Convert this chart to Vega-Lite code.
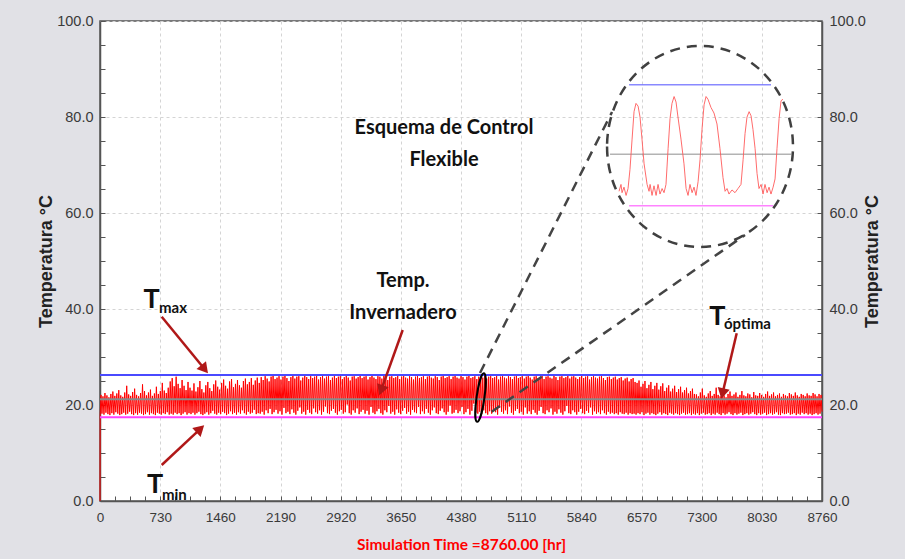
{
"$schema":"https://vega.github.io/schema/vega-lite/v6.json",
"width":722,"height":480,"autosize":"none",
"padding":{"left":100,"top":21,"right":83,"bottom":58},
"background":"#e1e1e6",
"config":{"view":{"stroke":"#555555","strokeWidth":1.5,"fill":"#ffffff"},
"axis":{"domainColor":"#555555","domainWidth":1.5,"tickColor":"#555555","tickWidth":1,"tickSize":-5,"labelColor":"#3a3a3a","gridColor":"#d4d4d4","gridDash":[3,3],"labelOverlap":false,"labelFlush":false,"labelBound":false}},
"datasets":{
"main":[{"h":0,"t":0},{"h":2,"t":17.9},{"h":12,"t":22.1},{"h":24,"t":18.2},{"h":36,"t":21.8},{"h":48,"t":18.0},{"h":60,"t":22.5},{"h":72,"t":18.4},{"h":84,"t":22.0},{"h":96,"t":18.1},{"h":108,"t":21.6},{"h":120,"t":17.9},{"h":132,"t":22.3},{"h":144,"t":18.3},{"h":156,"t":22.8},{"h":168,"t":18.0},{"h":180,"t":21.9},{"h":192,"t":18.5},{"h":204,"t":22.4},{"h":216,"t":18.2},{"h":228,"t":23.1},{"h":240,"t":17.9},{"h":252,"t":22.0},{"h":264,"t":18.1},{"h":276,"t":21.7},{"h":288,"t":18.4},{"h":300,"t":22.6},{"h":312,"t":18.0},{"h":324,"t":24.0},{"h":336,"t":18.2},{"h":348,"t":22.2},{"h":360,"t":18.6},{"h":372,"t":21.9},{"h":384,"t":18.1},{"h":396,"t":22.7},{"h":408,"t":17.9},{"h":420,"t":23.4},{"h":432,"t":18.3},{"h":444,"t":22.1},{"h":456,"t":18.0},{"h":468,"t":21.8},{"h":480,"t":18.4},{"h":492,"t":22.5},{"h":504,"t":18.2},{"h":516,"t":24.3},{"h":528,"t":17.9},{"h":540,"t":22.9},{"h":552,"t":18.1},{"h":564,"t":22.0},{"h":576,"t":18.5},{"h":588,"t":22.6},{"h":600,"t":18.0},{"h":612,"t":23.2},{"h":624,"t":18.3},{"h":636,"t":21.9},{"h":648,"t":18.1},{"h":660,"t":22.4},{"h":672,"t":17.9},{"h":684,"t":23.8},{"h":696,"t":18.4},{"h":708,"t":22.3},{"h":720,"t":18.2},{"h":732,"t":22.9},{"h":744,"t":18.0},{"h":756,"t":24.6},{"h":768,"t":18.3},{"h":780,"t":23.0},{"h":792,"t":18.1},{"h":804,"t":22.5},{"h":816,"t":18.5},{"h":828,"t":23.6},{"h":840,"t":18.0},{"h":852,"t":24.9},
{"h":864,"t":18.2},{"h":876,"t":25.6},{"h":888,"t":18.0},{"h":900,"t":23.9},{"h":912,"t":18.4},{"h":924,"t":25.9},{"h":936,"t":18.1},{"h":948,"t":24.4},{"h":960,"t":18.3},{"h":972,"t":23.5},{"h":984,"t":17.9},{"h":996,"t":25.2},{"h":1008,"t":18.2},{"h":1020,"t":24.0},{"h":1032,"t":18.5},{"h":1044,"t":23.1},{"h":1056,"t":18.0},{"h":1068,"t":24.8},{"h":1080,"t":18.3},{"h":1092,"t":23.6},
{"h":1104,"t":18.1},{"h":1116,"t":23.0},{"h":1128,"t":18.4},{"h":1140,"t":24.5},{"h":1152,"t":18.0},{"h":1164,"t":22.8},{"h":1176,"t":18.3},{"h":1188,"t":23.7},{"h":1200,"t":18.6},{"h":1212,"t":25.0},{"h":1224,"t":18.1},{"h":1236,"t":23.3},{"h":1248,"t":17.9},{"h":1260,"t":22.6},{"h":1272,"t":18.2},{"h":1284,"t":24.1},{"h":1296,"t":18.5},{"h":1308,"t":24.8},{"h":1320,"t":18.0},{"h":1332,"t":23.5},{"h":1344,"t":18.3},{"h":1356,"t":22.9},{"h":1368,"t":18.8},{"h":1380,"t":24.3},{"h":1392,"t":18.2},{"h":1404,"t":25.1},{"h":1416,"t":18.0},{"h":1428,"t":23.8},{"h":1440,"t":18.4},{"h":1452,"t":23.2},{"h":1464,"t":18.1},{"h":1476,"t":24.6},{"h":1488,"t":18.6},{"h":1500,"t":25.3},{"h":1512,"t":18.3},{"h":1524,"t":24.0},{"h":1536,"t":17.9},{"h":1548,"t":23.4},{"h":1560,"t":18.2},{"h":1572,"t":24.9},{"h":1584,"t":18.7},{"h":1596,"t":25.4},{"h":1608,"t":18.1},{"h":1620,"t":23.7},{"h":1632,"t":18.4},{"h":1644,"t":24.4},{"h":1656,"t":18.0},{"h":1668,"t":25.2},{"h":1680,"t":18.5},{"h":1692,"t":24.1},{"h":1704,"t":18.2},{"h":1716,"t":23.6},{"h":1728,"t":18.9},{"h":1740,"t":25.0},{"h":1752,"t":18.3},{"h":1764,"t":25.5},{"h":1776,"t":18.0},{"h":1788,"t":24.3},{"h":1800,"t":18.6},{"h":1812,"t":24.8},{"h":1824,"t":18.2},{"h":1836,"t":25.6},{"h":1848,"t":18.4},{"h":1860,"t":24.2},{"h":1872,"t":19.0},{"h":1884,"t":25.1},{"h":1896,"t":18.1},{"h":1908,"t":25.7},{"h":1920,"t":18.3},{"h":1932,"t":24.6},
{"h":1944,"t":18.2},{"h":1956,"t":25.8},{"h":1968,"t":18.6},{"h":1980,"t":25.2},{"h":1992,"t":18.0},{"h":2004,"t":26.0},{"h":2016,"t":18.9},{"h":2028,"t":25.5},{"h":2040,"t":18.3},{"h":2052,"t":24.9},{"h":2064,"t":19.2},{"h":2076,"t":25.9},{"h":2088,"t":18.1},{"h":2100,"t":26.1},{"h":2112,"t":18.5},{"h":2124,"t":25.4},{"h":2136,"t":19.0},{"h":2148,"t":25.7},{"h":2160,"t":18.2},{"h":2172,"t":26.0},{"h":2184,"t":18.7},{"h":2196,"t":25.3},{"h":2208,"t":18.0},{"h":2220,"t":25.9},{"h":2232,"t":19.4},{"h":2244,"t":26.2},{"h":2256,"t":18.3},{"h":2268,"t":25.6},{"h":2280,"t":18.6},{"h":2292,"t":25.0},{"h":2304,"t":18.1},{"h":2316,"t":25.8},{"h":2328,"t":19.1},{"h":2340,"t":26.1},{"h":2352,"t":18.4},{"h":2364,"t":25.5},{"h":2376,"t":18.0},{"h":2388,"t":25.9},{"h":2400,"t":18.8},{"h":2412,"t":26.0},{"h":2424,"t":19.5},{"h":2436,"t":25.1},{"h":2448,"t":18.2},{"h":2460,"t":25.7},{"h":2472,"t":18.6},{"h":2484,"t":26.1},{"h":2496,"t":18.0},{"h":2508,"t":25.8},{"h":2520,"t":19.0},{"h":2532,"t":25.4},{"h":2544,"t":18.4},{"h":2556,"t":26.0},{"h":2568,"t":18.1},{"h":2580,"t":25.6},{"h":2592,"t":19.3},{"h":2604,"t":25.9},{"h":2616,"t":18.5},{"h":2628,"t":26.2},{"h":2640,"t":18.2},{"h":2652,"t":25.3},{"h":2664,"t":18.9},{"h":2676,"t":25.8},{"h":2688,"t":18.0},{"h":2700,"t":26.1},{"h":2712,"t":18.6},{"h":2724,"t":25.5},{"h":2736,"t":19.7},{"h":2748,"t":25.9},{"h":2760,"t":18.3},{"h":2772,"t":26.0},{"h":2784,"t":18.1},{"h":2796,"t":25.2},{"h":2808,"t":18.8},{"h":2820,"t":25.7},{"h":2832,"t":19.2},{"h":2844,"t":26.1},{"h":2856,"t":18.4},{"h":2868,"t":25.6},{"h":2880,"t":18.0},{"h":2892,"t":25.9},{"h":2904,"t":18.7},{"h":2916,"t":26.0},{"h":2928,"t":19.0},{"h":2940,"t":25.4},{"h":2952,"t":18.2},{"h":2964,"t":25.8},{"h":2976,"t":18.5},{"h":2988,"t":26.2},{"h":3000,"t":20.1},{"h":3012,"t":25.7},{"h":3024,"t":18.3},{"h":3036,"t":25.1},{"h":3048,"t":18.0},{"h":3060,"t":25.9},{"h":3072,"t":18.9},{"h":3084,"t":26.0},{"h":3096,"t":18.4},{"h":3108,"t":25.5},{"h":3120,"t":19.3},{"h":3132,"t":25.8},{"h":3144,"t":18.1},{"h":3156,"t":26.1},{"h":3168,"t":18.6},{"h":3180,"t":25.6},{"h":3192,"t":19.0},{"h":3204,"t":25.9},{"h":3216,"t":18.2},{"h":3228,"t":26.0},{"h":3240,"t":18.8},{"h":3252,"t":25.3},{"h":3264,"t":18.0},{"h":3276,"t":25.8},{"h":3288,"t":19.6},{"h":3300,"t":26.2},{"h":3312,"t":18.4},{"h":3324,"t":25.7},{"h":3336,"t":18.1},{"h":3348,"t":25.4},{"h":3360,"t":18.7},{"h":3372,"t":26.0},{"h":3384,"t":19.2},{"h":3396,"t":25.9},{"h":3408,"t":18.3},{"h":3420,"t":25.5},{"h":3432,"t":18.0},{"h":3444,"t":26.1},{"h":3456,"t":18.9},{"h":3468,"t":25.8},{"h":3480,"t":18.5},{"h":3492,"t":25.2},{"h":3504,"t":19.8},{"h":3516,"t":25.9},{"h":3528,"t":18.2},{"h":3540,"t":26.0},{"h":3552,"t":18.6},{"h":3564,"t":25.6},{"h":3576,"t":18.0},{"h":3588,"t":25.8},{"h":3600,"t":19.1},{"h":3612,"t":26.1},{"h":3624,"t":18.4},{"h":3636,"t":25.4},{"h":3648,"t":18.1},{"h":3660,"t":25.9},{"h":3672,"t":18.8},{"h":3684,"t":26.2},{"h":3696,"t":19.4},{"h":3708,"t":25.7},{"h":3720,"t":18.2},{"h":3732,"t":25.5},{"h":3744,"t":18.6},{"h":3756,"t":26.0},{"h":3768,"t":18.0},{"h":3780,"t":25.8},{"h":3792,"t":19.0},{"h":3804,"t":25.3},{"h":3816,"t":18.5},{"h":3828,"t":25.9},{"h":3840,"t":18.3},{"h":3852,"t":26.1},{"h":3864,"t":19.6},{"h":3876,"t":25.6},{"h":3888,"t":18.1},{"h":3900,"t":25.8},{"h":3912,"t":18.7},{"h":3924,"t":26.0},{"h":3936,"t":18.2},{"h":3948,"t":25.4},{"h":3960,"t":19.2},{"h":3972,"t":25.9},{"h":3984,"t":18.4},{"h":3996,"t":26.2},{"h":4008,"t":18.0},{"h":4020,"t":25.7},{"h":4032,"t":18.9},{"h":4044,"t":25.5},{"h":4056,"t":19.5},{"h":4068,"t":26.0},{"h":4080,"t":18.3},{"h":4092,"t":25.8},{"h":4104,"t":18.1},{"h":4116,"t":25.2},{"h":4128,"t":18.8},{"h":4140,"t":25.9},{"h":4152,"t":19.3},{"h":4164,"t":26.1},{"h":4176,"t":18.5},{"h":4188,"t":25.6},{"h":4200,"t":18.0},{"h":4212,"t":25.8},{"h":4224,"t":18.6},{"h":4236,"t":26.0},{"h":4248,"t":19.9},{"h":4260,"t":25.4},{"h":4272,"t":18.2},{"h":4284,"t":25.9},{"h":4296,"t":18.4},{"h":4308,"t":26.2},{"h":4320,"t":19.0},{"h":4332,"t":25.7},{"h":4344,"t":18.3},{"h":4356,"t":25.5},{"h":4368,"t":18.7},{"h":4380,"t":26.0},{"h":4392,"t":19.6},{"h":4404,"t":25.8},{"h":4416,"t":18.1},{"h":4428,"t":25.3},{"h":4440,"t":18.5},{"h":4452,"t":25.9},{"h":4464,"t":19.2},{"h":4476,"t":26.1},{"h":4488,"t":18.0},{"h":4500,"t":25.6},{"h":4512,"t":18.8},{"h":4524,"t":25.8},{"h":4536,"t":20.3},{"h":4548,"t":26.0},{"h":4560,"t":18.4},{"h":4572,"t":25.4},{"h":4584,"t":18.2},{"h":4596,"t":25.9},{"h":4608,"t":18.6},{"h":4620,"t":26.1},{"h":4632,"t":18.1},{"h":4644,"t":25.7},{"h":4656,"t":18.9},{"h":4668,"t":26.2},{"h":4680,"t":18.3},{"h":4692,"t":25.5},{"h":4704,"t":18.0},{"h":4716,"t":25.9},{"h":4728,"t":18.7},{"h":4740,"t":26.0},{"h":4752,"t":18.2},{"h":4764,"t":25.6},{"h":4776,"t":19.1},{"h":4788,"t":25.8},{"h":4800,"t":18.5},{"h":4812,"t":26.1},{"h":4824,"t":18.0},{"h":4836,"t":25.3},{"h":4848,"t":19.4},{"h":4860,"t":25.9},{"h":4872,"t":18.6},{"h":4884,"t":26.2},{"h":4896,"t":18.2},{"h":4908,"t":25.7},{"h":4920,"t":18.9},{"h":4932,"t":25.5},{"h":4944,"t":18.1},{"h":4956,"t":26.0},{"h":4968,"t":19.7},{"h":4980,"t":25.8},{"h":4992,"t":18.4},{"h":5004,"t":25.4},{"h":5016,"t":18.0},{"h":5028,"t":25.9},{"h":5040,"t":18.8},{"h":5052,"t":26.1},{"h":5064,"t":19.2},{"h":5076,"t":25.6},{"h":5088,"t":18.3},{"h":5100,"t":25.8},{"h":5112,"t":18.6},{"h":5124,"t":26.0},{"h":5136,"t":18.0},{"h":5148,"t":25.5},{"h":5160,"t":19.5},{"h":5172,"t":25.9},{"h":5184,"t":18.2},{"h":5196,"t":26.2},{"h":5208,"t":18.7},{"h":5220,"t":25.7},{"h":5232,"t":18.1},{"h":5244,"t":25.3},{"h":5256,"t":19.0},{"h":5268,"t":25.9},{"h":5280,"t":18.4},{"h":5292,"t":26.0},{"h":5304,"t":18.0},{"h":5316,"t":25.6},{"h":5328,"t":18.8},{"h":5340,"t":25.8},{"h":5352,"t":19.6},{"h":5364,"t":26.1},{"h":5376,"t":18.3},{"h":5388,"t":25.4},{"h":5400,"t":18.1},{"h":5412,"t":25.9},{"h":5424,"t":18.9},{"h":5436,"t":26.0},{"h":5448,"t":18.5},{"h":5460,"t":25.7},{"h":5472,"t":19.3},{"h":5484,"t":25.5},{"h":5496,"t":18.0},{"h":5508,"t":26.1},{"h":5520,"t":18.6},{"h":5532,"t":25.8},{"h":5544,"t":18.2},{"h":5556,"t":25.2},{"h":5568,"t":19.1},{"h":5580,"t":25.9},{"h":5592,"t":18.4},{"h":5604,"t":26.0},{"h":5616,"t":18.0},{"h":5628,"t":25.6},{"h":5640,"t":18.7},{"h":5652,"t":25.8},{"h":5664,"t":19.8},{"h":5676,"t":26.2},{"h":5688,"t":18.3},{"h":5700,"t":25.5},{"h":5712,"t":18.1},{"h":5724,"t":25.9},{"h":5736,"t":18.9},{"h":5748,"t":26.0},{"h":5760,"t":18.5},{"h":5772,"t":25.7},{"h":5784,"t":18.0},{"h":5796,"t":25.4},{"h":5808,"t":18.6},{"h":5820,"t":25.8},{"h":5832,"t":19.2},{"h":5844,"t":26.1},{"h":5856,"t":18.3},{"h":5868,"t":25.6},{"h":5880,"t":18.1},{"h":5892,"t":25.9},{"h":5904,"t":18.8},{"h":5916,"t":26.0},{"h":5928,"t":18.4},{"h":5940,"t":25.3},{"h":5952,"t":19.5},{"h":5964,"t":25.8},{"h":5976,"t":18.0},{"h":5988,"t":26.1},{"h":6000,"t":18.7},{"h":6012,"t":25.7},{"h":6024,"t":18.2},{"h":6036,"t":25.5},{"h":6048,"t":18.5},{"h":6060,"t":25.9},{"h":6072,"t":18.1},{"h":6084,"t":26.0},{"h":6096,"t":18.9},{"h":6108,"t":25.6},{"h":6120,"t":18.3},{"h":6132,"t":25.2},{"h":6144,"t":18.0},{"h":6156,"t":25.8},{"h":6168,"t":18.6},{"h":6180,"t":25.9},{"h":6192,"t":18.2},{"h":6204,"t":25.4},{"h":6216,"t":18.4},{"h":6228,"t":25.7},{"h":6240,"t":18.1},{"h":6252,"t":25.9},{"h":6264,"t":18.3},{"h":6276,"t":25.3},{"h":6288,"t":18.0},{"h":6300,"t":25.6},{"h":6312,"t":18.5},{"h":6324,"t":25.8},{"h":6336,"t":18.2},{"h":6348,"t":25.1},{"h":6360,"t":18.1},{"h":6372,"t":25.5},{"h":6384,"t":18.4},{"h":6396,"t":25.7},{"h":6408,"t":18.0},{"h":6420,"t":24.9},{"h":6432,"t":18.3},{"h":6444,"t":25.4},{"h":6456,"t":18.1},{"h":6468,"t":25.6},{"h":6480,"t":18.2},{"h":6492,"t":24.8},
{"h":6504,"t":18.0},{"h":6516,"t":24.6},{"h":6528,"t":18.3},{"h":6540,"t":25.1},{"h":6552,"t":18.1},{"h":6564,"t":23.8},{"h":6576,"t":18.5},{"h":6588,"t":24.4},{"h":6600,"t":17.9},{"h":6612,"t":25.0},{"h":6624,"t":18.2},{"h":6636,"t":23.5},{"h":6648,"t":18.4},{"h":6660,"t":24.2},{"h":6672,"t":18.0},{"h":6684,"t":24.8},{"h":6696,"t":18.3},{"h":6708,"t":23.3},{"h":6720,"t":18.1},{"h":6732,"t":24.0},{"h":6744,"t":17.9},{"h":6756,"t":24.6},{"h":6768,"t":18.2},{"h":6780,"t":23.2},{"h":6792,"t":18.5},{"h":6804,"t":23.9},{"h":6816,"t":18.0},{"h":6828,"t":24.5},{"h":6840,"t":18.3},{"h":6852,"t":22.9},{"h":6864,"t":18.1},{"h":6876,"t":23.6},{"h":6888,"t":17.9},{"h":6900,"t":24.1},{"h":6912,"t":18.4},{"h":6924,"t":22.8},{"h":6936,"t":18.2},{"h":6948,"t":23.4},{"h":6960,"t":18.0},{"h":6972,"t":24.0},{"h":6984,"t":18.3},{"h":6996,"t":22.7},{"h":7008,"t":18.1},{"h":7020,"t":23.3},{"h":7032,"t":17.9},{"h":7044,"t":23.8},{"h":7056,"t":18.2},{"h":7068,"t":22.6},{"h":7080,"t":18.4},{"h":7092,"t":23.1},{"h":7104,"t":18.0},{"h":7116,"t":23.6},{"h":7128,"t":18.1},{"h":7140,"t":22.4},{"h":7152,"t":18.3},{"h":7164,"t":22.9},{"h":7176,"t":17.9},{"h":7188,"t":23.4},{"h":7200,"t":18.2},{"h":7212,"t":22.3},
{"h":7224,"t":18.0},{"h":7236,"t":22.2},{"h":7248,"t":18.3},{"h":7260,"t":21.8},{"h":7272,"t":17.9},{"h":7284,"t":22.6},{"h":7296,"t":18.2},{"h":7308,"t":23.4},{"h":7320,"t":18.4},{"h":7332,"t":22.0},{"h":7344,"t":18.0},{"h":7356,"t":21.7},{"h":7368,"t":18.1},{"h":7380,"t":22.4},{"h":7392,"t":18.3},{"h":7404,"t":22.9},{"h":7416,"t":17.9},{"h":7428,"t":21.9},{"h":7440,"t":18.2},{"h":7452,"t":22.3},{"h":7464,"t":18.0},{"h":7476,"t":23.6},{"h":7488,"t":18.4},{"h":7500,"t":22.1},{"h":7512,"t":18.1},{"h":7524,"t":21.8},{"h":7536,"t":17.9},{"h":7548,"t":22.5},{"h":7560,"t":18.3},{"h":7572,"t":22.0},{"h":7584,"t":18.0},{"h":7596,"t":21.6},{"h":7608,"t":18.2},{"h":7620,"t":22.3},{"h":7632,"t":18.5},{"h":7644,"t":22.8},{"h":7656,"t":18.1},{"h":7668,"t":21.9},{"h":7680,"t":17.9},{"h":7692,"t":22.2},{"h":7704,"t":18.3},{"h":7716,"t":22.6},{"h":7728,"t":18.0},{"h":7740,"t":21.7},{"h":7752,"t":18.2},{"h":7764,"t":22.1},{"h":7776,"t":18.4},{"h":7788,"t":22.9},{"h":7800,"t":17.9},{"h":7812,"t":22.0},{"h":7824,"t":18.1},{"h":7836,"t":21.8},{"h":7848,"t":18.3},{"h":7860,"t":22.4},{"h":7872,"t":18.0},{"h":7884,"t":22.2},{"h":7896,"t":18.2},{"h":7908,"t":21.6},{"h":7920,"t":18.5},{"h":7932,"t":22.7},{"h":7944,"t":18.1},{"h":7956,"t":22.0},{"h":7968,"t":17.9},{"h":7980,"t":21.9},{"h":7992,"t":18.3},{"h":8004,"t":22.5},{"h":8016,"t":18.0},{"h":8028,"t":22.1},{"h":8040,"t":18.2},{"h":8052,"t":21.7},{"h":8064,"t":18.4},{"h":8076,"t":22.3},{"h":8088,"t":17.9},{"h":8100,"t":22.8},{"h":8112,"t":18.1},{"h":8124,"t":21.9},{"h":8136,"t":18.3},{"h":8148,"t":22.2},{"h":8160,"t":18.0},{"h":8172,"t":22.6},{"h":8184,"t":18.2},{"h":8196,"t":21.8},{"h":8208,"t":18.5},{"h":8220,"t":22.1},{"h":8232,"t":18.0},{"h":8244,"t":22.4},{"h":8256,"t":17.9},{"h":8268,"t":21.7},{"h":8280,"t":18.3},{"h":8292,"t":22.3},{"h":8304,"t":18.1},{"h":8316,"t":22.0},{"h":8328,"t":18.2},{"h":8340,"t":21.8},{"h":8352,"t":18.4},{"h":8364,"t":22.5},{"h":8376,"t":18.0},{"h":8388,"t":22.2},{"h":8400,"t":18.1},{"h":8412,"t":21.9},{"h":8424,"t":18.3},{"h":8436,"t":22.6},{"h":8448,"t":17.9},{"h":8460,"t":22.0},{"h":8472,"t":18.2},{"h":8484,"t":21.7},{"h":8496,"t":18.0},{"h":8508,"t":22.3},{"h":8520,"t":18.4},{"h":8532,"t":22.1},{"h":8544,"t":18.1},{"h":8556,"t":21.8},{"h":8568,"t":18.3},{"h":8580,"t":22.4},{"h":8592,"t":18.0},{"h":8604,"t":22.0},{"h":8616,"t":18.2},{"h":8628,"t":21.9},{"h":8640,"t":17.9},{"h":8652,"t":22.5},{"h":8664,"t":18.1},{"h":8676,"t":22.2},{"h":8688,"t":18.3},{"h":8700,"t":21.8},{"h":8712,"t":18.0},{"h":8724,"t":22.3},{"h":8736,"t":18.2},{"h":8748,"t":22.1},{"h":8760,"t":18.6}],
"limits":[{"name":"Tmax","t":26.25,"h":0,"h2":8760},{"name":"Tmin","t":17.44,"h":0,"h2":8760},{"name":"Topt","t":21.2,"h":0,"h2":8760}],
"insetLimits":[{"name":"Tmax","t":26.25,"h":4596.7,"h2":4691.3},{"name":"Tmin","t":17.44,"h":4596.7,"h2":4692.7},{"name":"Topt","t":21.2,"h":4584,"h2":4705.3}],
"inset":[{"h":4590,"t":18.5},{"h":4591.3,"t":19.0},{"h":4592,"t":18.4},{"h":4593.3,"t":18.8},{"h":4594.7,"t":18.2},{"h":4596,"t":18.7},{"h":4597.3,"t":20.1},{"h":4598.7,"t":22.3},{"h":4600,"t":24.3},{"h":4601.3,"t":24.9},{"h":4602.7,"t":24.7},{"h":4604,"t":23.9},{"h":4605.3,"t":22.3},{"h":4606.7,"t":20.5},{"h":4608.7,"t":19.0},{"h":4610,"t":18.5},{"h":4610.7,"t":19.0},{"h":4612,"t":18.2},{"h":4613.3,"t":18.9},{"h":4614.7,"t":18.2},{"h":4616,"t":19.0},{"h":4617.3,"t":18.3},{"h":4618.7,"t":18.7},{"h":4620,"t":18.4},{"h":4621.3,"t":19.0},{"h":4622.7,"t":21.6},{"h":4624,"t":23.8},{"h":4625.3,"t":24.9},{"h":4626.7,"t":25.4},{"h":4628,"t":25.0},{"h":4629.3,"t":23.9},{"h":4631.3,"t":22.3},{"h":4633.3,"t":20.5},{"h":4634.7,"t":18.7},{"h":4636,"t":18.2},{"h":4637.3,"t":19.0},{"h":4638.7,"t":18.4},{"h":4640,"t":18.8},{"h":4641.3,"t":18.2},{"h":4642.7,"t":19.2},{"h":4644,"t":20.8},{"h":4645.3,"t":23.0},{"h":4646.7,"t":24.8},{"h":4648,"t":25.4},{"h":4649.3,"t":25.2},{"h":4651.3,"t":24.6},{"h":4653.3,"t":24.2},{"h":4655.3,"t":23.4},{"h":4657.3,"t":21.6},{"h":4659.3,"t":19.5},{"h":4660.7,"t":18.5},{"h":4662,"t":18.7},{"h":4663.3,"t":18.3},{"h":4665.3,"t":18.6},{"h":4667.3,"t":18.4},{"h":4669.3,"t":18.7},{"h":4671.3,"t":19.0},{"h":4672.7,"t":20.8},{"h":4674,"t":22.7},{"h":4675.3,"t":23.9},{"h":4676.7,"t":24.3},{"h":4678,"t":24.0},{"h":4679.3,"t":23.0},{"h":4680.7,"t":21.6},{"h":4682,"t":19.8},{"h":4683.3,"t":18.7},{"h":4684.7,"t":19.0},{"h":4686,"t":18.3},{"h":4687.3,"t":19.0},{"h":4688.7,"t":18.4},{"h":4690,"t":18.8},{"h":4691.3,"t":18.3},{"h":4692.7,"t":18.8},{"h":4694,"t":19.4},{"h":4695.3,"t":21.6},{"h":4696.7,"t":23.8},{"h":4698,"t":25.1},{"h":4699.3,"t":25.2}],
"arrows":[{"h":748.6,"t":38.4,"h2":1255.8,"t2":27.75},{"h":748.6,"t":7.5,"h2":1201.2,"t2":14.77},{"h":3672.7,"t":35.63,"h2":3417.9,"t2":23.42},{"h":7725,"t":34.94,"h2":7557.6,"t2":22.75}],
"zoomLines":[{"h":4610.6,"t":26.67,"h2":6212.3,"t2":81.04},{"h":4752.5,"t":18.6,"h2":7825.8,"t2":55.42}]
},
"layer":[
{"data":{"name":"main"},"mark":{"type":"line","color":"#ff0000","strokeWidth":1,"opacity":1},
"encoding":{
"x":{"field":"h","type":"quantitative","scale":{"domain":[0,8760],"nice":false,"zero":false},
"axis":{"orient":"bottom","values":[0,182.5,365,547.5,730,912.5,1095,1277.5,1460,1642.5,1825,2007.5,2190,2372.5,2555,2737.5,2920,3102.5,3285,3467.5,3650,3832.5,4015,4197.5,4380,4562.5,4745,4927.5,5110,5292.5,5475,5657.5,5840,6022.5,6205,6387.5,6570,6752.5,6935,7117.5,7300,7482.5,7665,7847.5,8030,8212.5,8395,8577.5,8760],
"labelExpr":"datum.value % 730 === 0 ? format(datum.value, 'd') : ''",
"gridOpacity":{"condition":{"test":"datum.value % 730 === 0","value":1},"value":0},
"grid":true,"labelFont":"Liberation Sans","labelFontSize":13.5,"labelPadding":14,
"title":"Simulation Time =8760.00 [hr]","titleColor":"#ff0000","titleFont":"Lato","titleFontSize":15.5,"titleFontWeight":"bold","titlePadding":14}},
"y":{"field":"t","type":"quantitative","scale":{"domain":[0,100],"nice":false,"zero":false},
"axis":{"orient":"left","values":[0,5,10,15,20,25,30,35,40,45,50,55,60,65,70,75,80,85,90,95,100],
"labelExpr":"datum.value % 20 === 0 ? format(datum.value, '.1f') : ''",
"gridOpacity":{"condition":{"test":"datum.value % 20 === 0","value":1},"value":0},
"grid":true,"labelFont":"Liberation Sans","labelFontSize":14.5,"labelPadding":12,
"title":"Temperatura °C","titleFont":"Liberation Sans","titleFontSize":18,"titleFontWeight":"bold","titleColor":"#222222","titlePadding":1}}}},
{"data":{"name":"limits"},"mark":{"type":"rule","strokeWidth":2},
"encoding":{
"x":{"field":"h","type":"quantitative","scale":{"domain":[0,8760],"nice":false,"zero":false},"axis":null},
"x2":{"field":"h2"},
"y":{"field":"t","type":"quantitative","scale":{"domain":[0,100],"nice":false,"zero":false},
"axis":{"orient":"right","values":[0,5,10,15,20,25,30,35,40,45,50,55,60,65,70,75,80,85,90,95,100],
"labelExpr":"datum.value % 20 === 0 ? format(datum.value, '.1f') : ''",
"grid":false,"labelFont":"Liberation Sans","labelFontSize":14.5,"labelPadding":12,
"title":"Temperatura °C","titleFont":"Liberation Sans","titleFontSize":18,"titleFontWeight":"bold","titleColor":"#222222","titlePadding":16,"titleAngle":270}},
"color":{"field":"name","type":"nominal","scale":{"domain":["Tmax","Tmin","Topt"],"range":["#4a4aff","#ff40ff","#8a8a8a"]},"legend":null}}},
{"data":{"name":"zoomLines"},"mark":{"type":"rule","color":"#444444","strokeWidth":2.5,"strokeDash":[10,7]},
"encoding":{"x":{"field":"h","type":"quantitative","scale":{"domain":[0,8760],"nice":false,"zero":false},"axis":null},"x2":{"field":"h2"},
"y":{"field":"t","type":"quantitative","scale":{"domain":[0,100],"nice":false,"zero":false},"axis":null},"y2":{"field":"t2"}}},
{"data":{"values":[{"h":7280,"t":73.85}]},"mark":{"type":"point","shape":"M -0.925 0 A 0.925 1 0 1 0 0.925 0 A 0.925 1 0 1 0 -0.925 0 Z","size":40401,"filled":false,"stroke":"#404040","strokeWidth":2.5,"strokeDash":[10,7],"opacity":1},
"encoding":{"x":{"field":"h","type":"quantitative","scale":{"domain":[0,8760],"nice":false,"zero":false},"axis":null},
"y":{"field":"t","type":"quantitative","scale":{"domain":[0,100],"nice":false,"zero":false},"axis":null}}},
{"data":{"values":[{"h":4616.7,"t":21.56}]},"mark":{"type":"point","shape":"M -0.16 0 A 0.16 1 0 1 0 0.16 0 A 0.16 1 0 1 0 -0.16 0 Z","size":2401,"angle":8,"filled":false,"stroke":"#000000","strokeWidth":2,"opacity":1},
"encoding":{"x":{"field":"h","type":"quantitative","scale":{"domain":[0,8760],"nice":false,"zero":false},"axis":null},
"y":{"field":"t","type":"quantitative","scale":{"domain":[0,100],"nice":false,"zero":false},"axis":null}}},
{"data":{"name":"arrows"},"mark":{"type":"rule","color":"#b01818","strokeWidth":2.5},
"encoding":{"x":{"field":"h","type":"quantitative","scale":{"domain":[0,8760],"nice":false,"zero":false},"axis":null},"x2":{"field":"h2"},
"y":{"field":"t","type":"quantitative","scale":{"domain":[0,100],"nice":false,"zero":false},"axis":null},"y2":{"field":"t2"}}},
{"data":{"values":[{"h":1255.8,"t":27.75}]},"mark":{"type":"point","shape":"triangle","size":150,"angle":140.7,"filled":true,"color":"#b01818","opacity":1},
"encoding":{"x":{"field":"h","type":"quantitative","scale":{"domain":[0,8760],"nice":false,"zero":false},"axis":null},
"y":{"field":"t","type":"quantitative","scale":{"domain":[0,100],"nice":false,"zero":false},"axis":null}}},
{"data":{"values":[{"h":1201.2,"t":14.77}]},"mark":{"type":"point","shape":"triangle","size":150,"angle":46.9,"filled":true,"color":"#b01818","opacity":1},
"encoding":{"x":{"field":"h","type":"quantitative","scale":{"domain":[0,8760],"nice":false,"zero":false},"axis":null},
"y":{"field":"t","type":"quantitative","scale":{"domain":[0,100],"nice":false,"zero":false},"axis":null}}},
{"data":{"values":[{"h":3417.9,"t":23.42}]},"mark":{"type":"point","shape":"triangle","size":150,"angle":199.7,"filled":true,"color":"#b01818","opacity":1},
"encoding":{"x":{"field":"h","type":"quantitative","scale":{"domain":[0,8760],"nice":false,"zero":false},"axis":null},
"y":{"field":"t","type":"quantitative","scale":{"domain":[0,100],"nice":false,"zero":false},"axis":null}}},
{"data":{"values":[{"h":7557.6,"t":22.75}]},"mark":{"type":"point","shape":"triangle","size":150,"angle":193.3,"filled":true,"color":"#b01818","opacity":1},
"encoding":{"x":{"field":"h","type":"quantitative","scale":{"domain":[0,8760],"nice":false,"zero":false},"axis":null},
"y":{"field":"t","type":"quantitative","scale":{"domain":[0,100],"nice":false,"zero":false},"axis":null}}},
{"data":{"values":[{"h":4173.8,"t":76.46,"label":"Esquema de Control"},{"h":4173.8,"t":69.79,"label":"Flexible"},{"h":3676.3,"t":44.58,"label":"Temp."},{"h":3676.3,"t":37.92,"label":"Invernadero"}]},
"mark":{"type":"text","font":"Lato","fontSize":20,"fontWeight":"bold","align":"center","baseline":"alphabetic","color":"#111111"},
"encoding":{"x":{"field":"h","type":"quantitative","scale":{"domain":[0,8760],"nice":false,"zero":false},"axis":null},
"y":{"field":"t","type":"quantitative","scale":{"domain":[0,100],"nice":false,"zero":false},"axis":null},"text":{"field":"label"}}},
{"data":{"values":[{"h":624.9,"t":40.21,"label":"T"},{"h":667.3,"t":1.67,"label":"T"},{"h":7491.7,"t":36.67,"label":"T"}]},
"mark":{"type":"text","font":"Lato","fontSize":27,"fontWeight":"bold","align":"center","baseline":"alphabetic","color":"#111111"},
"encoding":{"x":{"field":"h","type":"quantitative","scale":{"domain":[0,8760],"nice":false,"zero":false},"axis":null},
"y":{"field":"t","type":"quantitative","scale":{"domain":[0,100],"nice":false,"zero":false},"axis":null},"text":{"field":"label"}}},
{"data":{"values":[{"h":715.9,"t":39.17,"label":"max"},{"h":752,"t":0.21,"label":"min"},{"h":7571,"t":35.83,"label":"óptima"}]},
"mark":{"type":"text","font":"Lato","fontSize":15,"fontWeight":"bold","align":"left","baseline":"alphabetic","color":"#111111"},
"encoding":{"x":{"field":"h","type":"quantitative","scale":{"domain":[0,8760],"nice":false,"zero":false},"axis":null},
"y":{"field":"t","type":"quantitative","scale":{"domain":[0,100],"nice":false,"zero":false},"axis":null},"text":{"field":"label"}}},
{"data":{"name":"insetLimits"},"mark":{"type":"rule","strokeWidth":1.5,"opacity":0.65},
"encoding":{"x":{"field":"h","type":"quantitative","scale":{"domain":[4244,4725.3],"nice":false,"zero":false},"axis":null},"x2":{"field":"h2"},
"y":{"field":"t","type":"quantitative","scale":{"domain":[-4.05,30.9],"nice":false,"zero":false},"axis":null},
"color":{"field":"name","type":"nominal","scale":{"domain":["Tmax","Tmin","Topt"],"range":["#4a4aff","#ff40ff","#8a8a8a"]},"legend":null}}},
{"data":{"name":"inset"},"mark":{"type":"line","color":"#ff5a5a","strokeWidth":0.9},
"encoding":{"x":{"field":"h","type":"quantitative","scale":{"domain":[4244,4725.3],"nice":false,"zero":false},"axis":null},
"y":{"field":"t","type":"quantitative","scale":{"domain":[-4.05,30.9],"nice":false,"zero":false},"axis":null}}}
],
"resolve":{"scale":{"x":"independent","y":"independent"}}
}
